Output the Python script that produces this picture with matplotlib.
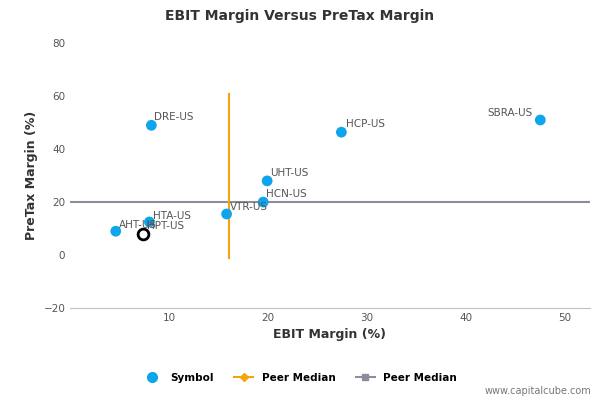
import matplotlib
matplotlib.use("Agg")
import matplotlib.pyplot as plt
from matplotlib.lines import Line2D

# ---- data ----
symbols = ["DRE-US", "HCP-US", "SBRA-US", "UHT-US", "HCN-US", "VTR-US", "HTA-US", "AHT-US"]
ebit = [8.2, 27.4, 47.5, 19.9, 19.5, 15.8, 8.0, 4.6]
pretax = [49.0, 46.4, 51.0, 28.0, 20.0, 15.5, 12.5, 9.0]
label_dx = [0.3, 0.5, -5.3, 0.3, 0.3, 0.3, 0.4, 0.3]
label_dy = [2.0, 2.0, 1.5, 2.0, 2.0, 1.5, 1.0, 1.2]
focus_name = "HPT-US"
focus_x, focus_y = 7.4, 8.0
median_x = 16.0
median_y = 20.0

blue = "#0ea5ec"
orange = "#f5a40f"
grey = "#8c8c9c"

fig = plt.figure(figsize=(6, 4), dpi=100)
ax = fig.add_axes([0.117, 0.23, 0.866, 0.662])

ax.axhline(median_y, color=grey, lw=1.5, zorder=1)
ax.plot([median_x, median_x], [-1, 61], color=orange, lw=1.5, zorder=1)

ax.scatter(ebit, pretax, s=60, color=blue, zorder=3, edgecolors="none")
ax.scatter([focus_x], [focus_y], s=60, facecolors="white", edgecolors="black", lw=2, zorder=4)

for s, x, y, dx, dy in zip(symbols, ebit, pretax, label_dx, label_dy):
    ax.text(x + dx, y + dy, s, fontsize=7.5, color="#555555", zorder=5)
ax.text(focus_x + 0.4, focus_y + 2.0, focus_name, fontsize=7.5, color="#555555", zorder=5)

ax.set_xlim(0, 52.5)
ax.set_ylim(-20, 80)
ax.set_xticks([10, 20, 30, 40, 50])
ax.set_yticks([-20, 0, 20, 40, 60, 80])
ax.tick_params(labelsize=7.5, colors="#555555", length=0)
for sp in ["top", "right"]:
    ax.spines[sp].set_visible(False)
ax.spines["left"].set_visible(False)
ax.spines["bottom"].set_color("#c0c0c0")

ax.set_xlabel("EBIT Margin (%)", fontsize=9, fontweight="bold", color="#333333")
ax.set_ylabel("PreTax Margin (%)", fontsize=9, fontweight="bold", color="#333333")
fig.text(0.5, 0.95, "EBIT Margin Versus PreTax Margin", ha="center", fontsize=10,
         fontweight="bold", color="#333333")

handles = [
    Line2D([], [], marker="o", color=blue, ls="none", markersize=7),
    Line2D([], [], marker="D", color=orange, markersize=4, lw=1.5),
    Line2D([], [], marker="s", color=grey, markersize=5, lw=1.5),
]
fig.legend(handles, ["Symbol", "Peer Median", "Peer Median"], loc="lower center",
           bbox_to_anchor=(0.5, 0.02), ncol=3, frameon=False,
           prop={"size": 7.5, "weight": "bold"}, handlelength=1.8, columnspacing=2)
fig.text(0.985, 0.015, "www.capitalcube.com", ha="right", fontsize=7, color="#777777")

fig.savefig("out.png")
